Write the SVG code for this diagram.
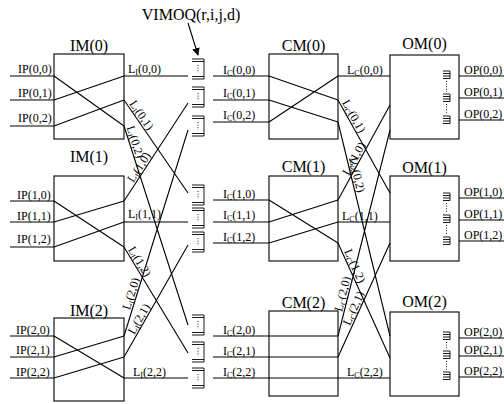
<svg xmlns="http://www.w3.org/2000/svg" width="504" height="404" viewBox="0 0 504 404">
<style>
  .box{fill:none;stroke:#000;stroke-width:1.1}
  .ln{fill:none;stroke:#000;stroke-width:1.1}
  .q{fill:none;stroke:#000;stroke-width:0.9}
  .dot{fill:none;stroke:#000;stroke-width:0.9;stroke-dasharray:1 1.6}
  text{font-family:"Liberation Serif","Times New Roman",serif;fill:#000}
  .t{font-size:12px}
  .h{font-size:16px;text-anchor:middle}
  .s{font-size:8px}
</style>
<defs>
  <!-- VIMOQ buffer: stacked cells closed on the right, dotted middle -->
  <g id="fifo">
    <path class="q" d="M0 0H12V20H0M0 2.5H12M0 17.5H12"/>
    <path class="dot" d="M6 6V14"/>
  </g>
  <!-- output buffer glyph inside OM -->
  <g id="obuf">
    <path class="q" d="M0 0H7V7.5H0M0 2.5H7M0 5H7"/>
  </g>
  <marker id="arr" viewBox="0 0 10 10" refX="9" refY="5" markerWidth="7" markerHeight="7" orient="auto">
    <path d="M0 0L10 5L0 10z" fill="#000"/>
  </marker>
</defs>
<rect width="504" height="404" fill="#fff"/>

<!-- input modules -->
<g id="im0">
  <rect class="box" x="54" y="54" width="70" height="85"/>
  <text class="h" x="89" y="51">IM(0)</text>
  <path class="ln" d="M54 76L124 126M54 100L124 76M54 126L124 100"/>
</g>
<g id="im1">
  <rect class="box" x="54" y="176" width="70" height="85"/>
  <text class="h" x="89" y="162">IM(1)</text>
  <path class="ln" d="M54 201L124 247M54 222L124 201M54 247L124 222"/>
</g>
<g id="im2">
  <rect class="box" x="54" y="318" width="70" height="83"/>
  <text class="h" x="89" y="316">IM(2)</text>
  <path class="ln" d="M54 336L124 378M54 357L124 336M54 378L124 357"/>
</g>

<!-- VIMOQ buffers in front of each central module -->
<g id="vimoq0">
  <use href="#fifo" x="192" y="59"/>
  <use href="#fifo" x="192" y="87"/>
  <use href="#fifo" x="192" y="116"/>
</g>
<g id="vimoq1">
  <use href="#fifo" x="192" y="185"/>
  <use href="#fifo" x="192" y="208"/>
  <use href="#fifo" x="192" y="232"/>
</g>
<g id="vimoq2">
  <use href="#fifo" x="192" y="315"/>
  <use href="#fifo" x="192" y="342"/>
  <use href="#fifo" x="192" y="368"/>
</g>

<!-- central modules -->
<g id="cm0">
  <rect class="box" x="269" y="54" width="69" height="85"/>
  <text class="h" x="303.5" y="51">CM(0)</text>
  <path class="ln" d="M269 76L338 100M269 100L338 122M269 122L338 76"/>
</g>
<g id="cm1">
  <rect class="box" x="269" y="176" width="69" height="85"/>
  <text class="h" x="303.5" y="172">CM(1)</text>
  <path class="ln" d="M269 200L338 243M269 222L338 200M269 243L338 222"/>
</g>
<g id="cm2">
  <rect class="box" x="269" y="311" width="69" height="85"/>
  <text class="h" x="303.5" y="308">CM(2)</text>
  <path class="ln" d="M269 336H338M269 357H338M269 378H338"/>
</g>

<!-- output modules -->
<g id="om0">
  <rect class="box" x="390" y="55" width="69" height="84"/>
  <text class="h" x="424.5" y="49">OM(0)</text>
  <use href="#obuf" x="443" y="71"/>
  <use href="#obuf" x="443" y="94"/>
  <use href="#obuf" x="443" y="116"/>
  <path class="dot" d="M446.5 81V92M446.5 104V114"/>
</g>
<g id="om1">
  <rect class="box" x="390" y="176" width="69" height="85"/>
  <text class="h" x="424.5" y="173">OM(1)</text>
  <use href="#obuf" x="443" y="193"/>
  <use href="#obuf" x="443" y="215"/>
  <use href="#obuf" x="443" y="237"/>
  <path class="dot" d="M446.5 203V213M446.5 225V235"/>
</g>
<g id="om2">
  <rect class="box" x="390" y="312" width="69" height="84"/>
  <text class="h" x="424.5" y="307">OM(2)</text>
  <use href="#obuf" x="443" y="332"/>
  <use href="#obuf" x="443" y="351"/>
  <use href="#obuf" x="443" y="372"/>
  <path class="dot" d="M446.5 342V349M446.5 361V370"/>
</g>

<!-- links -->
<g id="connectors">
  <!-- input ports -->
  <path class="ln" d="M10 76H54M10 100H54M10 126H54M10 201H54M10 222H54M10 247H54M10 336H54M10 357H54M10 378H54"/>
  <!-- IM to VIMOQ -->
  <path class="ln" d="M124 76H188M124 100L188 193M124 126L188 325M124 201L188 103M124 222H188M124 247L188 353M124 336L188 130M124 357L188 245M124 378H188"/>
  <!-- VIMOQ to CM -->
  <path class="ln" d="M213 76H269M213 100H269M213 122H269M213 200H269M213 222H269M213 243H269M213 336H269M213 357H269M213 378H269"/>
  <!-- CM to OM -->
  <path class="ln" d="M338 76H390M338 100L390 193M338 122L390 336M338 200L390 105M338 222H390M338 243L390 358M338 336L390 130M338 357L390 243M338 378H390"/>
  <!-- output ports -->
  <path class="ln" d="M459 76H504M459 98H504M459 120H504M459 198H504M459 220H504M459 241H504M459 338H504M459 356H504M459 377H504"/>
  <!-- pointer to buffer -->
  <path class="ln" d="M188 23L198 55" marker-end="url(#arr)"/>
</g>

<!-- labels -->
<g id="labels">
  <text class="h" x="191" y="20">VIMOQ(r,i,j,d)</text>

  <text class="t" x="18" y="73">IP(0,0)</text>
  <text class="t" x="18" y="97">IP(0,1)</text>
  <text class="t" x="18" y="122">IP(0,2)</text>
  <text class="t" x="17" y="199">IP(1,0)</text>
  <text class="t" x="17" y="220">IP(1,1)</text>
  <text class="t" x="17" y="243">IP(1,2)</text>
  <text class="t" x="16" y="334">IP(2,0)</text>
  <text class="t" x="16" y="354">IP(2,1)</text>
  <text class="t" x="16" y="376">IP(2,2)</text>

  <text class="t" x="128" y="73">L<tspan class="s" dy="2">I</tspan><tspan dy="-2">(0,0)</tspan></text>
  <text class="t" transform="translate(124,100) rotate(55.5)" x="6" y="-2">L<tspan class="s" dy="2">I</tspan><tspan dy="-2">(0,1)</tspan></text>
  <text class="t" transform="translate(124,126) rotate(72.2)" x="2" y="-2">L<tspan class="s" dy="2">I</tspan><tspan dy="-2">(0,2)</tspan></text>
  <text class="t" transform="translate(124,201) rotate(-56.9)" x="20" y="-2">L<tspan class="s" dy="2">I</tspan><tspan dy="-2">(1,0)</tspan></text>
  <text class="t" x="128" y="218">L<tspan class="s" dy="2">I</tspan><tspan dy="-2">(1,1)</tspan></text>
  <text class="t" transform="translate(124,247) rotate(58.9)" x="4" y="-2">L<tspan class="s" dy="2">I</tspan><tspan dy="-2">(1,2)</tspan></text>
  <text class="t" transform="translate(124,336) rotate(-72.7)" x="26" y="-2">L<tspan class="s" dy="2">I</tspan><tspan dy="-2">(2,0)</tspan></text>
  <text class="t" transform="translate(124,357) rotate(-60.3)" x="24" y="-2">L<tspan class="s" dy="2">I</tspan><tspan dy="-2">(2,1)</tspan></text>
  <text class="t" x="133" y="376">L<tspan class="s" dy="2">I</tspan><tspan dy="-2">(2,2)</tspan></text>

  <text class="t" x="223" y="74">I<tspan class="s" dy="2">C</tspan><tspan dy="-2">(0,0)</tspan></text>
  <text class="t" x="223" y="97">I<tspan class="s" dy="2">C</tspan><tspan dy="-2">(0,1)</tspan></text>
  <text class="t" x="223" y="119">I<tspan class="s" dy="2">C</tspan><tspan dy="-2">(0,2)</tspan></text>
  <text class="t" x="223" y="198">I<tspan class="s" dy="2">C</tspan><tspan dy="-2">(1,0)</tspan></text>
  <text class="t" x="223" y="219">I<tspan class="s" dy="2">C</tspan><tspan dy="-2">(1,1)</tspan></text>
  <text class="t" x="223" y="241">I<tspan class="s" dy="2">C</tspan><tspan dy="-2">(1,2)</tspan></text>
  <text class="t" x="223" y="334">I<tspan class="s" dy="2">C</tspan><tspan dy="-2">(2,0)</tspan></text>
  <text class="t" x="223" y="355">I<tspan class="s" dy="2">C</tspan><tspan dy="-2">(2,1)</tspan></text>
  <text class="t" x="223" y="376">I<tspan class="s" dy="2">C</tspan><tspan dy="-2">(2,2)</tspan></text>

  <text class="t" x="347" y="74">L<tspan class="s" dy="2">C</tspan><tspan dy="-2">(0,0)</tspan></text>
  <text class="t" transform="translate(338,100) rotate(60.8)" x="4" y="-2">L<tspan class="s" dy="2">C</tspan><tspan dy="-2">(0,1)</tspan></text>
  <text class="t" transform="translate(338,122) rotate(76.3)" x="38" y="-2">L<tspan class="s" dy="2">C</tspan><tspan dy="-2">(0,2)</tspan></text>
  <text class="t" transform="translate(338,200) rotate(-61.3)" x="26" y="-2">L<tspan class="s" dy="2">C</tspan><tspan dy="-2">(1,0)</tspan></text>
  <text class="t" x="342" y="220">L<tspan class="s" dy="2">C</tspan><tspan dy="-2">(1,1)</tspan></text>
  <text class="t" transform="translate(338,243) rotate(65.7)" x="10" y="-2">L<tspan class="s" dy="2">C</tspan><tspan dy="-2">(1,2)</tspan></text>
  <text class="t" transform="translate(338,336) rotate(-75.8)" x="24" y="-2">L<tspan class="s" dy="2">C</tspan><tspan dy="-2">(2,0)</tspan></text>
  <text class="t" transform="translate(338,357) rotate(-65.5)" x="33" y="-2">L<tspan class="s" dy="2">C</tspan><tspan dy="-2">(2,1)</tspan></text>
  <text class="t" x="347" y="376">L<tspan class="s" dy="2">C</tspan><tspan dy="-2">(2,2)</tspan></text>

  <text class="t" x="464" y="74">OP(0,0)</text>
  <text class="t" x="464" y="96">OP(0,1)</text>
  <text class="t" x="464" y="118">OP(0,2)</text>
  <text class="t" x="464" y="196">OP(1,0)</text>
  <text class="t" x="464" y="218">OP(1,1)</text>
  <text class="t" x="464" y="239">OP(1,2)</text>
  <text class="t" x="464" y="336">OP(2,0)</text>
  <text class="t" x="464" y="354">OP(2,1)</text>
  <text class="t" x="464" y="375">OP(2,2)</text>
</g>
</svg>
